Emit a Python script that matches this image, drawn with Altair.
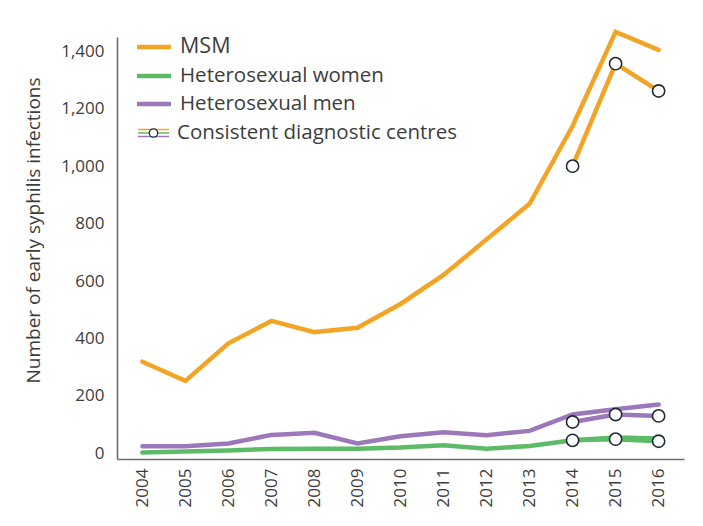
import altair as alt
import pandas as pd

years = [str(y) for y in range(2004, 2017)]
msm = [319, 252, 383, 461, 422, 437, 520, 621, 745, 869, 1140, 1468, 1405]
het_women = [3, 6, 10, 15, 16, 16, 20, 28, 16, 25, 45, 55, 51]
het_men = [24, 24, 34, 64, 71, 34, 59, 73, 63, 78, 135, 153, 170]

cons_years = ["2014", "2015", "2016"]
cons_msm = [1000, 1357, 1262]
cons_women = [45, 49, 42]
cons_men = [109, 135, 130]

series = ["MSM", "Heterosexual women", "Heterosexual men"]
colors = ["#F4A425", "#5DBB67", "#9C77B9"]
cons_label = "Consistent diagnostic centres"

main_vals = [msm, het_women, het_men]
cons_vals = [cons_msm, cons_women, cons_men]

main_df = pd.DataFrame(
    [{"year": y, "value": v, "series": s} for s, vals in zip(series, main_vals) for y, v in zip(years, vals)]
)
cons_df = pd.DataFrame(
    [{"year": y, "value": v, "series": s} for s, vals in zip(series, cons_vals) for y, v in zip(cons_years, vals)]
)

FONT = "Open Sans"
TXT = "#3d3d3d"

x_enc = alt.X(
    "year:O",
    sort=years,
    scale=alt.Scale(type="point", domain=years, padding=0.59),
    axis=alt.Axis(title=None, labelAngle=-90, labelPadding=9, labelFontSize=17),
)
y_enc = alt.Y(
    "value:Q",
    scale=alt.Scale(domain=[-20, 1450], nice=False, zero=False),
    axis=alt.Axis(
        title="Number of early syphilis infections",
        values=[0, 200, 400, 600, 800, 1000, 1200, 1400],
        format=",d",
        labelPadding=13,
        labelFontSize=17,
        titleFontSize=19,
        titleFontWeight="normal",
        titleX=-84,
        titleY=193,
        titleAngle=-90,
        titleAlign="center",
        titleBaseline="middle",
    ),
)
color_enc = alt.Color(
    "series:N", scale=alt.Scale(domain=series, range=colors), legend=None
)

main_lines = alt.Chart(main_df).mark_line(strokeWidth=4.5, strokeCap="round").encode(
    x=x_enc, y=y_enc, color=color_enc, detail="series:N"
)
cons_lines = alt.Chart(cons_df).mark_line(strokeWidth=4.5, strokeCap="round").encode(
    x=x_enc, y=y_enc, color=color_enc, detail="series:N"
)
cons_points = alt.Chart(cons_df).mark_point(
    filled=True, fill="white", stroke="#1f2a36", strokeWidth=1.6, size=150, opacity=1
).encode(x=x_enc, y=y_enc)

layers = [main_lines, cons_lines, cons_points]

# legend (drawn manually)
row_y = [10, 39, 67, 96]
for lab, col, yy in zip(series, colors, row_y[:3]):
    d = pd.DataFrame({"label": [lab]})
    layers.append(
        alt.Chart(d).mark_rule(strokeWidth=4.5, color=col).encode(
            x=alt.value(20), x2=alt.value(54), y=alt.value(yy)
        )
    )
    layers.append(
        alt.Chart(d).mark_text(
            align="left", baseline="middle", font=FONT, fontSize=21.5 if lab == "MSM" else 20.5, color=TXT
        ).encode(x=alt.value(63), y=alt.value(yy), text="label:N")
    )

yy = row_y[3]
for col, off in zip(colors, [-3.5, 0, 3.5]):
    d = pd.DataFrame({"label": [cons_label]})
    layers.append(
        alt.Chart(d).mark_rule(strokeWidth=1.5, color=col).encode(
            x=alt.value(21), x2=alt.value(52), y=alt.value(yy + off)
        )
    )
d = pd.DataFrame({"label": [cons_label]})
layers.append(
    alt.Chart(d).mark_point(filled=True, fill="white", stroke="#1f2a36", strokeWidth=1.3, size=70, opacity=1).encode(
        x=alt.value(36.5), y=alt.value(yy)
    )
)
layers.append(
    alt.Chart(d).mark_text(align="left", baseline="middle", font=FONT, fontSize=20.5, color=TXT).encode(
        x=alt.value(60), y=alt.value(yy), text="label:N"
    )
)

chart = (
    alt.layer(*layers)
    .properties(
        width=567,
        height=422,
        autosize=alt.AutoSizeParams(type="none"),
        padding={"left": 109, "top": 29, "right": 11, "bottom": 59},
    )
    .configure_view(stroke=None)
    .configure_axis(
        grid=False,
        ticks=False,
        domainColor="#6e6e6e",
        domainWidth=1.6,
        labelFont=FONT,
        titleFont=FONT,
        labelColor=TXT,
        titleColor=TXT,
    )
)

chart.save("out.html", embed_options={"renderer": "svg", "actions": False})
